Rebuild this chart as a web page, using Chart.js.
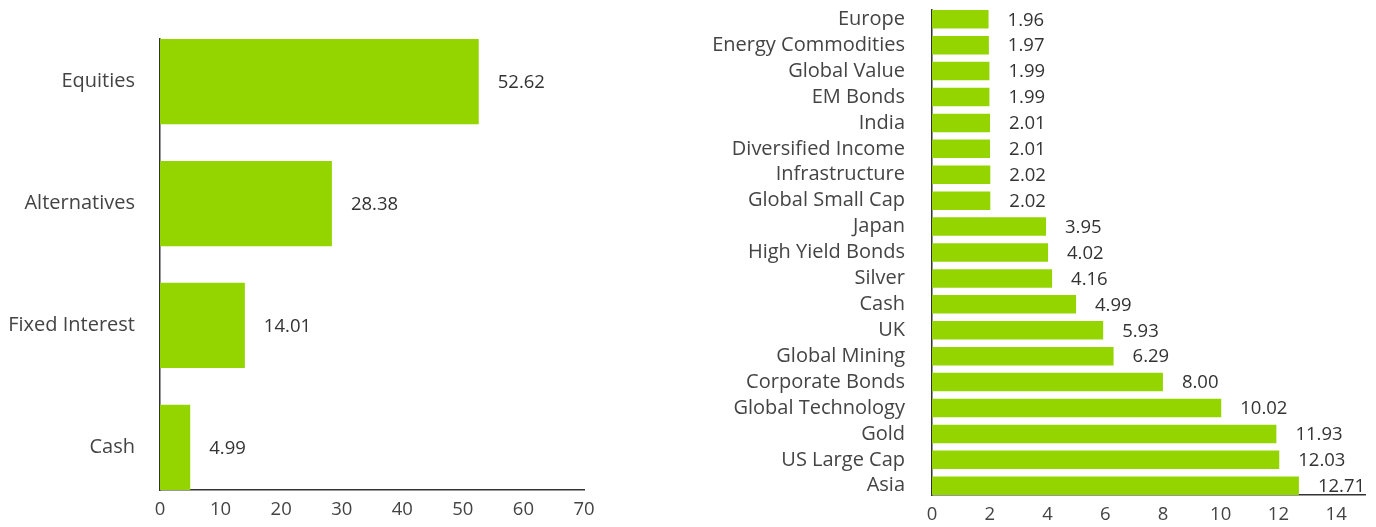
<!DOCTYPE html>
<html>
<head>
<meta charset="utf-8">
<script src="https://cdn.jsdelivr.net/npm/chart.js@4"></script>
<style>
    html, body { margin: 0; padding: 0; background: #fff; }
    #leftBox { position: absolute; left: 0; top: 0; width: 600px; height: 527px; }
    #rightBox { position: absolute; left: 620px; top: 0; width: 756px; height: 527px; }
</style>
</head>
<body>
<div id="leftBox"><canvas id="assetChart"></canvas></div>
<div id="rightBox"><canvas id="fundChart"></canvas></div>
<script>
var assetLabels = ["Equities", "Alternatives", "Fixed Interest", "Cash"];
var assetValues = [52.62, 28.38, 14.01, 4.99];

var fundLabels = ["Europe", "Energy Commodities", "Global Value", "EM Bonds", "India",
    "Diversified Income", "Infrastructure", "Global Small Cap", "Japan", "High Yield Bonds",
    "Silver", "Cash", "UK", "Global Mining", "Corporate Bonds", "Global Technology",
    "Gold", "US Large Cap", "Asia"];
var fundValues = [1.96, 1.97, 1.99, 1.99, 2.01, 2.01, 2.02, 2.02, 3.95, 4.02,
    4.16, 4.99, 5.93, 6.29, 8.00, 10.02, 11.93, 12.03, 12.71];

var green = "#94d500";
var textColor = "#444";
var fontFamily = "'Open Sans', sans-serif";

// draws the value next to the end of each bar
var valueLabels = {
    id: "valueLabels",
    afterDatasetsDraw: function (chart) {
        var ctx = chart.ctx;
        var meta = chart.getDatasetMeta(0);
        ctx.save();
        ctx.fillStyle = "#333";
        ctx.font = "18.5px " + fontFamily;
        ctx.textAlign = "left";
        ctx.textBaseline = "middle";
        meta.data.forEach(function (bar, i) {
            var v = chart.data.datasets[0].data[i].x;
            ctx.fillText(v.toFixed(2), bar.x + 19, bar.y + 1);
        });
        ctx.restore();
    }
};

function makeChart(id, labels, values, opts) {
    var points = values.map(function (v, i) { return { x: v, y: i }; });
    var half = opts.ratio / 2;

    return new Chart(document.getElementById(id), {
        type: "bar",
        data: {
            datasets: [{
                data: points,
                backgroundColor: green,
                categoryPercentage: 1,
                barPercentage: opts.ratio
            }]
        },
        options: {
            indexAxis: "y",
            responsive: true,
            maintainAspectRatio: false,
            animation: false,
            layout: { padding: { top: opts.top, right: opts.right, left: 0, bottom: 0 } },
            plugins: { legend: { display: false }, tooltip: { enabled: false } },
            scales: {
                x: {
                    type: "linear",
                    min: 0,
                    max: opts.max,
                    grid: { display: false, drawTicks: false },
                    border: { display: true, color: "#333", width: 1.5 },
                    ticks: {
                        stepSize: opts.step,
                        includeBounds: false,
                        color: textColor,
                        padding: 9,
                        font: { family: fontFamily, size: 18.5 }
                    },
                    afterFit: function (scale) {
                        scale.height = opts.xHeight;
                        scale.paddingRight = 0;
                        scale.paddingLeft = 0;
                    }
                },
                y: {
                    type: "linear",
                    reverse: true,
                    bounds: "data",
                    offset: false,
                    min: -half,
                    max: labels.length - 1 + half,
                    grid: { display: false, drawTicks: false, offset: false },
                    border: { display: true, color: "#333", width: 1.5 },
                    afterBuildTicks: function (scale) {
                        scale.ticks = labels.map(function (l, i) { return { value: i }; });
                    },
                    ticks: {
                        autoSkip: false,
                        color: textColor,
                        padding: opts.yPad,
                        font: { family: fontFamily, size: 20 },
                        callback: function (value) { return labels[value]; }
                    },
                    afterFit: function (scale) {
                        scale.width = opts.yWidth;
                        scale.paddingTop = 0;
                        scale.paddingBottom = 0;
                    }
                }
            }
        },
        plugins: [valueLabels]
    });
}

makeChart("assetChart", assetLabels, assetValues, {
    ratio: 0.70, max: 70, step: 10, top: 39, right: 16, xHeight: 37, yWidth: 160, yPad: 25
});

makeChart("fundChart", fundLabels, fundValues, {
    ratio: 0.714, max: 15, step: 2, top: 10, right: 11, xHeight: 32, yWidth: 312, yPad: 27
});
</script>
</body>
</html>
